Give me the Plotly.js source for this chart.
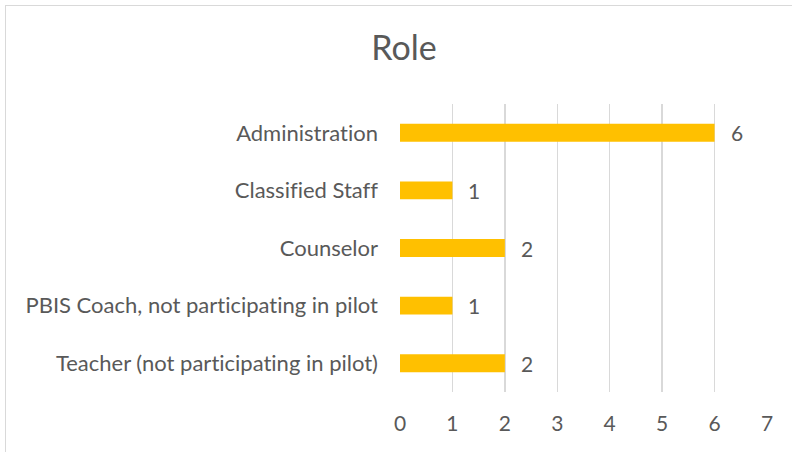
<!DOCTYPE html>
<html>
<head>
<meta charset="utf-8">
<script src="https://cdn.plot.ly/plotly-3.0.1.min.js"></script>
<style>
html,body{margin:0;padding:0;width:792px;height:452px;overflow:hidden;background:#fff;}
#chart{position:absolute;left:0;top:0;width:792px;height:452px;}
#frame{position:absolute;left:5px;top:5px;width:800px;height:460px;border:1.5px solid #d9d9d9;box-sizing:border-box;pointer-events:none;}
svg text{font-variant-ligatures:none;font-feature-settings:"liga" 0,"clig" 0;}
</style>
</head>
<body>
<div id="chart"></div>
<div id="frame"></div>
<script>
const categories = [
  "Administration",
  "Classified Staff",
  "Counselor",
  "PBIS Coach, not participating in pilot",
  "Teacher (not participating in pilot)"
];
const counts = [6, 1, 2, 1, 2];
const xTicks = [0, 1, 2, 3, 4, 5, 6, 7];

const fontFam = "Lato, 'Open Sans', sans-serif";
const textColor = "#595959";

const trace = {
  type: "bar",
  orientation: "h",
  x: counts,
  y: categories,
  marker: {color: "#FFC000"},
  width: 0.31,
  hoverinfo: "none"
};

const annotations = counts.map((v, i) => ({
  x: v, y: categories[i], xref: "x", yref: "y",
  text: String(v), showarrow: false,
  xanchor: "left", yanchor: "middle", xshift: 14,
  font: {family: fontFam, size: 21, color: textColor}
}));

const layout = {
  width: 792, height: 452,
  margin: {l: 400, r: 25.3, t: 104, b: 60.3},
  paper_bgcolor: "#fff", plot_bgcolor: "#fff",
  showlegend: false,
  title: {
    text: "Role",
    font: {family: fontFam, size: 34, color: textColor},
    x: 0.51, xanchor: "center", xref: "container",
    y: 1, yref: "container", yanchor: "top", pad: {t: 36}
  },
  xaxis: {
    range: [0, 7], tickvals: xTicks, ticktext: xTicks.map(String),
    showgrid: true, gridcolor: "#d9d9d9", gridwidth: 1.3,
    zeroline: false, showline: false, ticks: "",
    ticklabelstandoff: 17,
    tickfont: {family: fontFam, size: 21, color: textColor},
    fixedrange: true
  },
  yaxis: {
    autorange: "reversed", type: "category",
    showgrid: false, zeroline: false, showline: false, ticks: "",
    ticklabelstandoff: 21,
    tickfont: {family: fontFam, size: 22, color: textColor},
    fixedrange: true
  },
  annotations: annotations
};

Plotly.newPlot("chart", [trace], layout, {staticPlot: true, displayModeBar: false});
</script>
</body>
</html>
